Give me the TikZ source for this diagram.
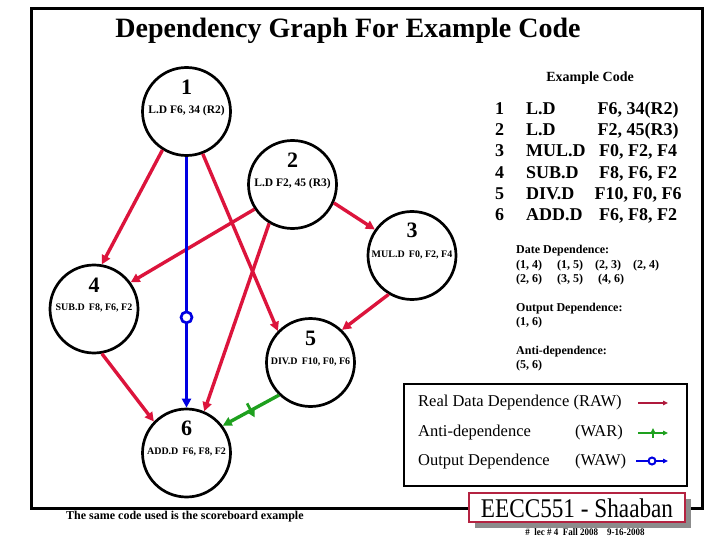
\documentclass[tikz,border=0pt]{standalone}
\usepackage{fontspec}
\setmainfont{Liberation Serif}
\usetikzlibrary{arrows.meta,decorations.markings,calc}
\definecolor{rawred}{RGB}{220,20,60}
\definecolor{legred}{RGB}{175,25,60}
\definecolor{warg}{RGB}{30,160,30}
\definecolor{wawb}{RGB}{0,0,225}
\definecolor{boxred}{RGB}{180,35,65}
\definecolor{shadowgray}{RGB}{140,140,140}
\begin{document}
\begin{tikzpicture}[x=1pt,y=-1pt,
  inst/.style={circle,draw,line width=2.7pt,minimum size=88pt,inner sep=0pt},
  num/.style={font=\fontsize{22}{22}\selectfont\bfseries,inner sep=0pt},
  lbl/.style={font=\fontsize{11.5}{12}\selectfont\bfseries,inner sep=0pt},
  lbls/.style={font=\fontsize{10}{12}\selectfont\bfseries,inner sep=0pt},
  bigtip/.style={-{Triangle[length=9pt,width=9pt]}},
  smalltip/.style={-{Triangle[length=5pt,width=4.5pt]}},
  rawedge/.style={draw=rawred,line width=3.4pt,bigtip},
  wawedge/.style={draw=wawb,line width=3.4pt,bigtip,postaction={decorate},
    decoration={markings,mark=at position 0.64 with {\draw[wawb,line width=2.7pt,fill=white] (0,0) circle (5.5pt);}}},
  waredge/.style={draw=warg,line width=3.4pt,bigtip,postaction={decorate},
    decoration={markings,mark=at position 0.5 with {\draw[warg,line width=2.7pt] (0,-8pt) -- (0,8pt);}}},
  codef/.style={font=\fontsize{18}{20}\selectfont\bfseries,inner sep=0pt},
  infof/.style={font=\fontsize{12}{14}\selectfont\bfseries,inner sep=0pt,anchor=west},
  legf/.style={font=\fontsize{16.5}{18}\selectfont,inner sep=0pt,anchor=west},
]
\useasboundingbox (0,0) rectangle (720,540);
\fill[white] (0,0) rectangle (720,540);

% outer frame
\draw[line width=3pt] (31,9) rectangle (702,508);

% title
\node[font=\fontsize{28}{30}\selectfont\bfseries,inner sep=0pt] (title) at (348,31) {Dependency Graph For Example Code};

% instruction nodes
\node[inst] (n1) at (186.5,111.5) {};
\node[inst] (n2) at (292.5,184.5) {};
\node[inst] (n3) at (412,255.5) {};
\node[inst] (n4) at (94,309) {};
\node[inst] (n5) at (310.5,362.5) {};
\node[inst] (n6) at (186.5,453) {};

\node[num] (n1num) at ($(n1)+(0,-24.5)$) {1};
\node[num] (n2num) at ($(n2)+(0,-24.5)$) {2};
\node[num] (n3num) at ($(n3)+(0,-25)$) {3};
\node[num] (n4num) at ($(n4)+(0,-24)$) {4};
\node[num] (n5num) at ($(n5)+(0,-24.5)$) {5};
\node[num] (n6num) at ($(n6)+(0,-25)$) {6};

\node[lbl] (n1lbl) at ($(n1)+(0,-1)$) {L.D F6, 34 (R2)};
\node[lbl] (n2lbl) at ($(n2)+(0,-1)$) {L.D F2, 45 (R3)};
\node[lbls] (n3lbl) at ($(n3)+(0,-1)$) {MUL.D\ \,F0, F2, F4};
\node[lbls] (n4lbl) at ($(n4)+(0,-1)$) {SUB.D\ \,F8, F6, F2};
\node[lbls] (n5lbl) at ($(n5)+(0,-1)$) {DIV.D\ \,F10, F0, F6};
\node[lbls] (n6lbl) at ($(n6)+(0,-1)$) {ADD.D\ \,F6, F8, F2};

% dependences
\draw[rawedge] (n1.238) -- (n4.80);
\draw[rawedge] (n1.291) -- (n5.136);
\draw[rawedge] (n2.336) -- (n3.145);
\draw[rawedge] (n2.213) -- (n4.36);
\draw[rawedge] (n2.239) -- (n6.67);
\draw[rawedge] (n3.239) -- (n5.46);
\draw[rawedge] (n4.280) -- (n6.136);
\draw[wawedge] (n1.south) -- (n6.north);
\draw[waredge] (n5.226) -- (n6.37);

% example code
\node[font=\fontsize{14}{16}\selectfont\bfseries,inner sep=0pt] (codetitle) at (590,78) {Example Code};
\foreach \i/\op/\args in {1/L.D/{F6, 34(R2)},2/L.D/{F2, 45(R3)},3/MUL.D/{F0, F2, F4},4/SUB.D/{F8, F6, F2},5/DIV.D/{F10, F0, F6},6/ADD.D/{F6, F8, F2}}{
  \pgfmathsetmacro{\yy}{112+(\i-1)*21.3}
  \node[codef,anchor=mid west] (cnum\i) at (495,\yy) {\i};
  \node[codef,anchor=mid west] (cop\i) at (526,\yy) {\op};
  \node[codef,anchor=mid] (carg\i) at (638,\yy) {\args};
}

% dependence lists
\node[infof] (dd) at (516,251) {Date Dependence:};
\node[infof] (dd1) at (516,266) {\makebox[41pt][l]{(1, 4)}\makebox[38pt][l]{(1, 5)}\makebox[38pt][l]{(2, 3)}(2, 4)};
\node[infof] (dd2) at (516,280) {\makebox[41pt][l]{(2, 6)}\makebox[41pt][l]{(3, 5)}(4, 6)};
\node[infof] (od) at (516,309) {Output Dependence:};
\node[infof] (od1) at (516,323) {(1, 6)};
\node[infof] (ad) at (516,352) {Anti-dependence:};
\node[infof] (ad1) at (516,366) {(5, 6)};

% legend
\draw[line width=2pt,fill=white] (404,384) rectangle (687,486);
\node[legf] (leg1) at (418,403) {Real Data Dependence (RAW)};
\node[legf] (leg2) at (418,433) {Anti-dependence};
\node[legf] (leg2b) at (575,433) {(WAR)};
\node[legf] (leg3) at (418,462) {Output Dependence};
\node[legf] (leg3b) at (575,462) {(WAW)};
\coordinate (lr1) at (638,403); \coordinate (lr2) at (668,403);
\coordinate (lg1) at (638,433); \coordinate (lg2) at (668,433);
\coordinate (lb1) at (636,461); \coordinate (lb2) at (668,461);
\draw[legred,line width=2pt,smalltip] (lr1) -- (lr2);
\draw[warg,line width=2pt,smalltip,postaction={decorate},
  decoration={markings,mark=at position 0.5 with {\draw[warg,line width=2pt] (0,-5pt) -- (0,5pt);}}] (lg1) -- (lg2);
\draw[wawb,line width=2pt,smalltip,postaction={decorate},
  decoration={markings,mark=at position 0.5 with {\draw[wawb,line width=2pt,fill=white] (0,0) circle (3.5pt);}}] (lb1) -- (lb2);

% bottom text
\node[font=\fontsize{12}{14}\selectfont\bfseries,inner sep=0pt,anchor=west] (note) at (66,517) {The same code used is the scoreboard example};

% course box
\fill[shadowgray] (475,499) rectangle (691,528);
\draw[boxred,line width=2pt,fill=white] (469,493) rectangle (685,522);
\node[font=\fontsize{27}{28}\selectfont,inner sep=0pt] (course) at (577,508) {\scalebox{0.86}[1]{EECC551 - Shaaban}};
\node[font=\fontsize{10}{12}\selectfont\bfseries,inner sep=0pt] (footer) at (585,532) {\scalebox{0.9}[1]{\#\ \ lec \# 4\ \ Fall 2008\ \ \ \ 9-16-2008}};
\end{tikzpicture}
\end{document}
